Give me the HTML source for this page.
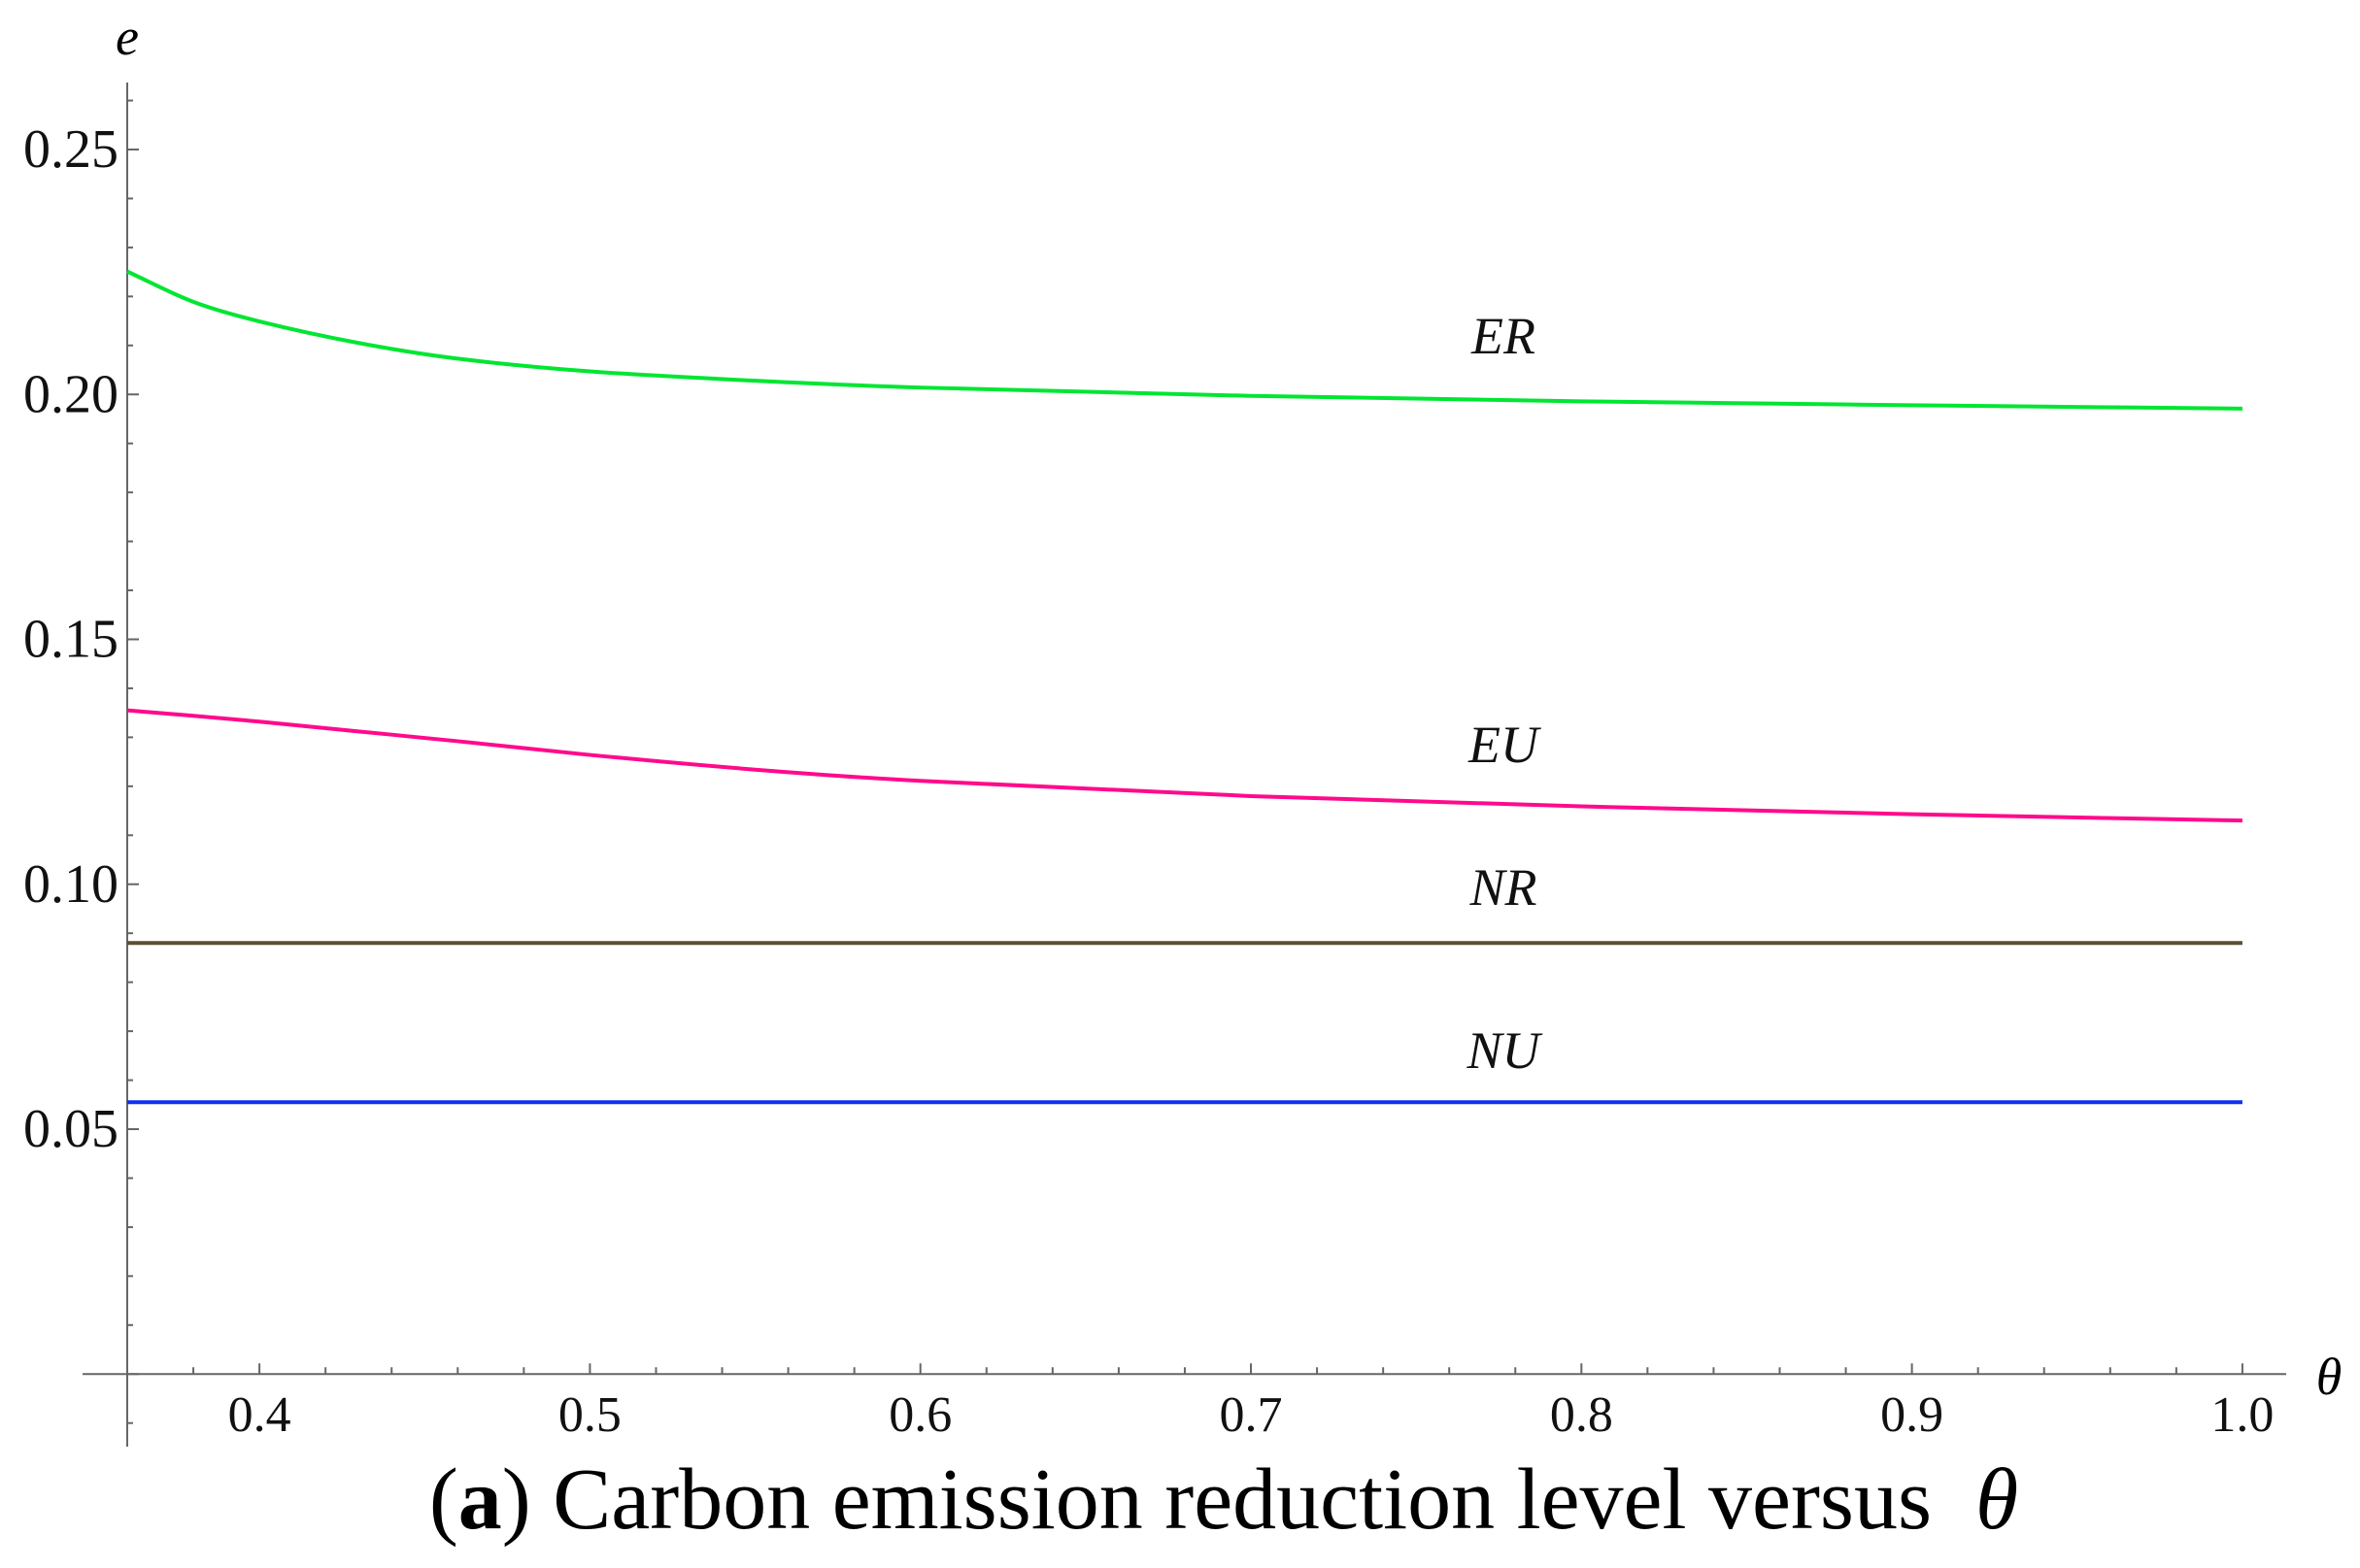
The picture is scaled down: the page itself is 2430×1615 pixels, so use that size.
<!DOCTYPE html>
<html><head><meta charset="utf-8"><style>
html,body{margin:0;padding:0;background:#fff;}
svg{display:block;font-family:"Liberation Serif",serif;}
</style></head><body>
<svg id="chart" width="2430" height="1615" viewBox="0 0 2430 1615" xmlns="http://www.w3.org/2000/svg">
<g id="axes"></g>
<g id="series"></g>
<g id="labels"></g>
<text x="131" y="56" font-size="54" font-style="italic" text-anchor="middle">e</text>
<text x="2398" y="1436" font-size="54" font-style="italic" text-anchor="middle">θ</text>
<text x="1260" y="1574" font-size="90" text-anchor="middle" xml:space="preserve">(<tspan font-weight="bold">a</tspan>) Carbon emission reduction level versus  <tspan font-style="italic">θ</tspan></text>
</svg>
<script>
const thetas = [0.36, 0.38, 0.40, 0.43, 0.46, 0.50, 0.55, 0.60, 0.70, 0.80, 0.90, 1.00];
const erValues = [0.2251, 0.2189, 0.2149, 0.2105, 0.2073, 0.2047, 0.2028, 0.2014, 0.1997, 0.1986, 0.1978, 0.1971];
const euValues = [0.1355, 0.1344, 0.1332, 0.1312, 0.1292, 0.1264, 0.1234, 0.1211, 0.1180, 0.1159, 0.1143, 0.1130];
const nrValues = [0.0880, 0.0880, 0.0880, 0.0880, 0.0880, 0.0880, 0.0880, 0.0880, 0.0880, 0.0880, 0.0880, 0.0880];
const nuValues = [0.0555, 0.0555, 0.0555, 0.0555, 0.0555, 0.0555, 0.0555, 0.0555, 0.0555, 0.0555, 0.0555, 0.0555];
const xTickLabels = ["0.4","0.5","0.6","0.7","0.8","0.9","1.0"];
const yTickLabels = ["0.05","0.10","0.15","0.20","0.25"];
const seriesNames = ["ER","EU","NR","NU"];

const NS = "http://www.w3.org/2000/svg";
function xs(t){ return 131 + (t - 0.36) * 3403; }
function ys(v){ return 154 + (0.25 - v) * 5045; }
function mk(tag, attrs, parent){ const e=document.createElementNS(NS,tag); for(const k in attrs) e.setAttribute(k,attrs[k]); parent.appendChild(e); return e; }

const axes = document.getElementById('axes');
const axisCol = "#666";
const axisY = ys(0);
let xl = mk('line',{x1:85,y1:axisY,x2:2354,y2:axisY,stroke:axisCol,'stroke-width':2},axes);


let yl = mk('line',{x1:131,y1:85,x2:131,y2:1490,stroke:axisCol,'stroke-width':2},axes);



for(let i=0;i<=32;i++){
  const t = 0.36 + i*0.02;
  if (t > 1.005) break;
  const major = Math.abs((t*10) - Math.round(t*10)) < 1e-6;
  const x = xs(t);
  const tk = mk('line',{x1:x,y1:axisY,x2:x,y2:major?axisY-11:axisY-7,stroke:axisCol,'stroke-width':2},axes);
  
  
}
xTickLabels.forEach(s=>{
  const t = parseFloat(s);
  const tx = mk('text',{x:xs(t),y:1474,'font-size':52,'text-anchor':'middle',fill:'#111'},axes);
  tx.textContent = s;
  
  
});
for(let i=-1;i<=26;i++){
  const v = i*0.01;
  const y = ys(v);
  if (y < 90 || y > 1488) continue;
  const major = i % 5 === 0;
  const tk = mk('line',{x1:131,y1:y,x2:major?143:137,y2:y,stroke:axisCol,'stroke-width':2},axes);
  
  
}
yTickLabels.forEach(s=>{
  const v = parseFloat(s);
  const tx = mk('text',{x:122,y:ys(v)+18,'font-size':56,'text-anchor':'end',fill:'#111'},axes);
  tx.textContent = s;
  
  
});

function smoothPath(vals){
  const pts = thetas.map((t,i)=>[xs(t), ys(vals[i])]);
  const n = pts.length;
  const m = pts.map((p,i)=>{
    const a = pts[Math.max(0,i-1)], b = pts[Math.min(n-1,i+1)];
    return (b[1]-a[1])/(b[0]-a[0]);
  });
  let d = `M${pts[0][0]},${pts[0][1]}`;
  for(let i=0;i<n-1;i++){
    const p1=pts[i], p2=pts[i+1], dx=(p2[0]-p1[0])/3;
    d += ` C${p1[0]+dx},${p1[1]+m[i]*dx} ${p2[0]-dx},${p2[1]-m[i+1]*dx} ${p2[0]},${p2[1]}`;
  }
  return d;
}
const seriesG = document.getElementById('series');
const allVals = [erValues, euValues, nrValues, nuValues];
const colors = ["#00e632","#ff0a8c","#5a5030","#1030f0"];
allVals.forEach((vals,k)=>{
  const p = mk('path',{d:smoothPath(vals),fill:'none',stroke:colors[k],'stroke-width':4},seriesG);
  
  
});

const labG = document.getElementById('labels');
const labelY = [364, 785, 932, 1100];
seriesNames.forEach((n,k)=>{
  const t = mk('text',{x:1548,y:labelY[k],'font-size':54,'font-style':'italic','text-anchor':'middle',fill:'#111'},labG);
  t.textContent = n;
  
  
});
</script>
</body></html>
